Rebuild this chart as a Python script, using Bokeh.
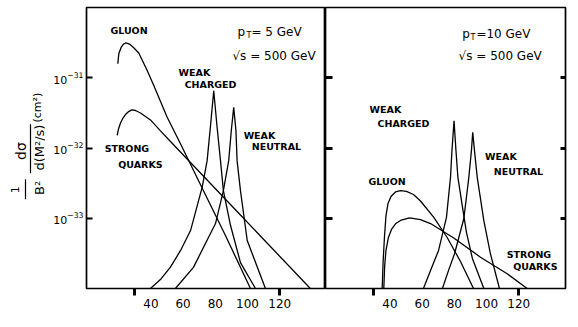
import math
from bokeh.plotting import figure
from bokeh.layouts import row
from bokeh.models import Range1d, FixedTicker, LogAxis, LinearAxis, Label, CustomJSTickFormatter
from bokeh.core.properties import value
from bokeh.embed import file_html
from bokeh.resources import INLINE

# ---------------- data (M in GeV, 1/B^2 dsigma/d(M^2/s) in cm^2) ----------------
# panel 1: pT = 5 GeV
gluon5_m = [19.43, 20.05, 21.54, 22.97, 24.52, 26.69, 29.17, 32.46, 37.68, 41.78, 50.09, 58.35,
            69.52, 86.28, 101.8]
gluon5_v = [1.58e-31, 2.19e-31, 2.72e-31, 3.02e-31, 3.13e-31, 3.02e-31, 2.70e-31, 2.25e-31,
            1.27e-31, 7.76e-32, 2.74e-32, 1.15e-32, 3.44e-33, 5.68e-34, 1.0e-34]
quarks5_m = [19.06, 19.86, 21.11, 22.66, 24.52, 26.38, 28.24, 30.42, 33.52, 39.73, 45.93, 52.14,
             95.59, 139.0]
quarks5_v = [1.51e-32, 1.86e-32, 2.27e-32, 2.67e-32, 3.05e-32, 3.33e-32, 3.48e-32, 3.42e-32,
             3.15e-32, 2.51e-32, 1.75e-32, 1.24e-32, 1.11e-33, 1.0e-34]
wch5_m = [39.7, 45.9, 52.1, 58.4, 64.6, 71.8, 74.9, 77.0, 79.0, 81.0, 83.2, 85.0, 89.4, 95.6, 104.9]
wch5_v = [1.0e-34, 1.34e-34, 2.01e-34, 3.48e-34, 6.68e-34, 2.75e-33, 6.61e-33, 2.07e-32, 6.52e-32,
          2.07e-32, 6.61e-33, 2.47e-33, 7.94e-34, 2.34e-34, 1.0e-34]
wneu5_m = [55.2, 66.4, 80.1, 85.0, 88.3, 89.9, 91.4, 92.8, 93.5, 95.6, 99.8, 111.1]
wneu5_v = [1.0e-34, 2.0e-34, 8.41e-34, 2.47e-33, 6.61e-33, 1.76e-32, 3.78e-32, 1.76e-32,
           6.61e-33, 2.47e-33, 4.82e-34, 1.0e-34]

# panel 2: pT = 10 GeV
gluon10_m = [35.2, 35.75, 36.62, 37.55, 38.80, 40.66, 43.45, 46.55, 50.28, 54.62, 58.97, 67.23,
             75.54, 83.80, 91.87]
gluon10_v = [1.0e-34, 2.34e-34, 5.50e-34, 1.09e-33, 1.62e-33, 2.04e-33, 2.37e-33, 2.48e-33,
             2.42e-33, 2.18e-33, 1.76e-33, 1.03e-33, 5.32e-34, 2.42e-34, 1.0e-34]
quarks10_m = [36.19, 36.75, 37.55, 39.11, 40.97, 43.45, 46.55, 52.14, 58.97, 65.18, 79.64, 96.21,
              112.8, 125.2]
quarks10_v = [1.0e-34, 2.12e-34, 3.48e-34, 5.37e-34, 6.92e-34, 8.34e-34, 9.29e-34, 1.01e-33,
              9.59e-34, 8.41e-34, 5.24e-34, 2.79e-34, 1.62e-34, 1.0e-34]
wch10_m = [60.8, 65.2, 70.2, 75.1, 77.6, 78.5, 79.8, 81.0, 82.2, 84.9, 87.5, 91.2, 98.3]
wch10_v = [1.0e-34, 1.81e-34, 3.48e-34, 1.03e-33, 3.82e-33, 9.16e-33, 2.44e-32, 9.16e-33,
           3.82e-33, 1.51e-33, 6.31e-34, 2.68e-34, 1.0e-34]
wneu10_m = [72.6, 76.4, 80.1, 85.9, 88.9, 90.6, 91.4, 92.5, 94.2, 98.3, 102.4, 108.0]
wneu10_v = [1.0e-34, 1.81e-34, 3.12e-34, 9.91e-34, 3.66e-33, 9.16e-33, 1.67e-32, 9.16e-33,
            3.82e-33, 9.27e-34, 3.12e-34, 1.0e-34]

x_tick_values = [40, 60, 80, 100, 120]
x_tick_marks = [30, 120]
y_tick_values = [1e-33, 1e-32, 1e-31]
y_min, y_max = 1e-34, 1e-30

FONT = "DejaVu Sans"
BLACK = "#000000"
blank = CustomJSTickFormatter(code="return ''")


def style_panel(p):
    p.grid.visible = False
    p.outline_line_color = BLACK
    p.outline_line_width = 1.7
    p.background_fill_color = "white"
    p.border_fill_color = "white"
    # axis next to the frame: only the two short tick marks hanging below it
    xa = p.xaxis[0]
    xa.ticker = FixedTicker(ticks=x_tick_marks)
    xa.formatter = blank
    xa.major_tick_in = 0
    xa.major_tick_out = 7
    xa.major_tick_line_color = BLACK
    xa.major_tick_line_width = 3
    xa.minor_tick_in = 0
    xa.minor_tick_out = 0
    xa.axis_line_color = None
    xa.major_label_standoff = 0
    xa.major_label_text_font_size = "1px"
    # axis under it: the value labels
    la = LinearAxis(ticker=FixedTicker(ticks=x_tick_values), major_tick_in=0, major_tick_out=0,
                    minor_tick_in=0, minor_tick_out=0, axis_line_color=None,
                    major_label_standoff=3, major_label_text_font=FONT,
                    major_label_text_font_size="12px", major_label_text_color=BLACK)
    p.add_layout(la, "below")
    ya = p.yaxis[0]
    ya.ticker = FixedTicker(ticks=y_tick_values)
    ya.axis_line_color = None
    ya.minor_tick_in = 0
    ya.minor_tick_out = 0
    ya.major_tick_line_color = BLACK
    ya.major_tick_line_width = 3


def curves(p, pairs):
    for m, v in pairs:
        p.line(m, v, line_color=BLACK, line_width=1.3)


def word(p, x, y, t, size="9.5px", bold=True, align="center", baseline="middle"):
    p.text(x=[x], y=[y], text=[t], text_font=value(FONT), text_font_size=size,
           text_font_style="bold" if bold else "normal", text_align=align,
           text_baseline=baseline, text_color=BLACK)


# ---------------- y-label strip ----------------
lab = figure(width=45, height=327, x_range=Range1d(0, 45), y_range=Range1d(0, 327),
             output_backend="svg", toolbar_location=None, min_border=0,
             x_axis_type=None, y_axis_type=None)
lab.grid.visible = False
lab.outline_line_color = None
half_pi = math.pi / 2
for x, y, t, s in [(14, 115, "1", "11px"), (38.5, 117, "B²", "13px"),
                   (20, 160, "dσ", "14px"), (38.5, 164, "d(M²/s)", "13px"),
                   (36.5, 210.5, "(cm²)", "11px")]:
    lab.text(x=[x], y=[y], text=[t], angle=half_pi, text_font=value(FONT), text_font_size=s,
             text_align="center", text_baseline="middle", text_color=BLACK)
lab.segment(x0=[25, 30], y0=[104, 134], x1=[25, 30], y1=[127, 191], line_color=BLACK, line_width=1.2)

# ---------------- panel 1 ----------------
p1 = figure(width=280, height=327, x_range=Range1d(0, 148.4), y_range=Range1d(y_min, y_max),
            y_axis_type="log", output_backend="svg", toolbar_location=None,
            min_border_left=41, min_border_right=0, min_border_top=7, min_border_bottom=39)
style_panel(p1)
p1.yaxis.major_tick_in = 6
p1.yaxis.major_tick_out = 0
p1.yaxis.major_label_standoff = 3
p1.yaxis.major_label_text_font = FONT
p1.yaxis.major_label_text_font_size = "11px"
p1.yaxis.major_label_text_color = BLACK
p1.yaxis.major_tick_line_width = 1.8
curves(p1, [(gluon5_m, gluon5_v), (quarks5_m, quarks5_v), (wch5_m, wch5_v), (wneu5_m, wneu5_v)])
word(p1, 26.4, 4.63e-31, "GLUON")
word(p1, 67.0, 1.19e-31, "WEAK")
word(p1, 77.0, 8.05e-32, "CHARGED")
word(p1, 107.4, 1.50e-32, "WEAK")
word(p1, 117.9, 1.04e-32, "NEUTRAL")
word(p1, 25.1, 9.77e-33, "STRONG")
word(p1, 33.5, 5.79e-33, "QUARKS")
word(p1, 93.7, 4.42e-31, "p", size="12px", bold=False, align="left", baseline="alphabetic")
word(p1, 99.3, 3.94e-31, "T", size="8px", bold=False, align="left", baseline="alphabetic")
word(p1, 102.4, 4.42e-31, "= 5 GeV", size="12px", bold=False, align="left", baseline="alphabetic")
word(p1, 90.6, 2.05e-31, "√s = 500 GeV", size="12px", bold=False, align="left", baseline="alphabetic")

# ---------------- panel 2 ----------------
p2 = figure(width=253, height=327, x_range=Range1d(0, 149), y_range=Range1d(y_min, y_max),
            y_axis_type="log", output_backend="svg", toolbar_location=None,
            min_border_left=0, min_border_right=13, min_border_top=7, min_border_bottom=39)
style_panel(p2)
p2.yaxis.formatter = blank
p2.yaxis.major_tick_in = 7
p2.yaxis.major_tick_out = 0
p2.yaxis.major_label_standoff = 0
rax = LogAxis(ticker=FixedTicker(ticks=y_tick_values), formatter=blank, major_tick_in=5,
              major_tick_out=0, minor_tick_in=0, minor_tick_out=0, axis_line_color=None,
              major_label_standoff=0, major_tick_line_color=BLACK, major_tick_line_width=3)
p2.add_layout(rax, "right")
curves(p2, [(gluon10_m, gluon10_v), (quarks10_m, quarks10_v), (wch10_m, wch10_v), (wneu10_m, wneu10_v)])
word(p2, 37.2, 3.50e-32, "WEAK")
word(p2, 48.4, 2.21e-32, "CHARGED")
word(p2, 108.9, 7.52e-33, "WEAK")
word(p2, 119.8, 4.60e-33, "NEUTRAL")
word(p2, 38.2, 3.32e-33, "GLUON")
word(p2, 126.3, 3.05e-34, "STRONG")
word(p2, 130.3, 2.06e-34, "QUARKS")
word(p2, 84.9, 4.21e-31, "p", size="12px", bold=False, align="left", baseline="alphabetic")
word(p2, 90.0, 3.69e-31, "T", size="8px", bold=False, align="left", baseline="alphabetic")
word(p2, 93.7, 4.21e-31, "=10 GeV", size="12px", bold=False, align="left", baseline="alphabetic")
word(p2, 82.6, 2.05e-31, "√s = 500 GeV", size="12px", bold=False, align="left", baseline="alphabetic")
p2.add_layout(Label(x=137.8, y=3.5e-35, text="M (GeV)", text_align="center", text_baseline="middle",
                    text_font=FONT, text_font_size="12px", text_color=BLACK))

layout = row(lab, p1, p2)
open("out.html", "w").write(file_html(layout, INLINE))
